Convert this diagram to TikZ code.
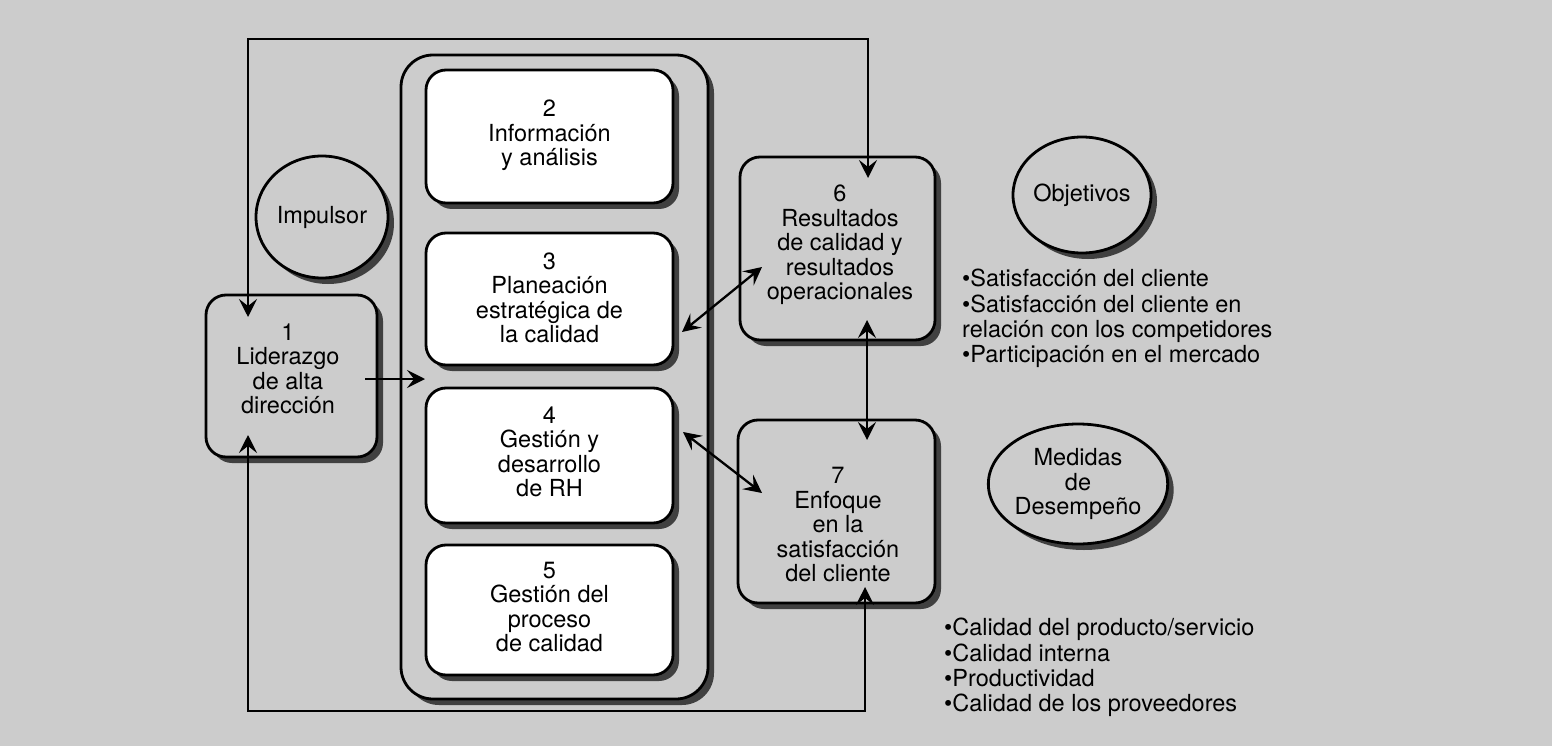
\documentclass[tikz,border=0pt]{standalone}
\usepackage{fontspec}
\setmainfont{TeX Gyre Heros}
\usetikzlibrary{shapes.geometric,shadows,arrows.meta}
\definecolor{bg}{gray}{0.80}
\begin{document}
\begin{tikzpicture}[x=1pt,y=-1pt,
  every node/.style={font=\fontsize{23.5}{24.5}\selectfont},
  shad/.style={drop shadow={shadow xshift=6pt,shadow yshift=-6pt,fill=black!75,opacity=1}},
  box/.style={draw,line width=2.8pt,rounded corners=20pt,shad,inner sep=0pt},
  wbox/.style={box,fill=white,minimum width=247pt},
  gbox/.style={box,fill=bg},
  circ/.style={ellipse,draw,line width=2.8pt,fill=bg,shad,inner sep=0pt,align=center},
  txt/.style={align=center,inner sep=0pt},
  lst/.style={align=left,inner sep=0pt,anchor=north west,font=\fontsize{23.5}{25.3}\selectfont},
  conn/.style={line width=2.3pt},
  tip/.style={-{Stealth[length=18pt,width=18pt,inset=7pt]}},
  dtip/.style={{Stealth[length=18pt,width=18pt,inset=7pt]}-{Stealth[length=18pt,width=18pt,inset=7pt]}}
]
\useasboundingbox[fill=bg] (0,0) rectangle (1552,746);

% container
\node[gbox,rounded corners=32pt,minimum width=307pt,minimum height=644pt] (cont) at (554.5,377) {};

% white boxes
\node[wbox,minimum height=133pt] (b2) at (549.5,136.5) {};
\node[wbox,minimum height=132pt] (b3) at (549.5,299) {};
\node[wbox,minimum height=135pt] (b4) at (549.5,455.5) {};
\node[wbox,minimum height=130pt] (b5) at (549.5,610) {};

% grey boxes
\node[gbox,minimum width=171pt,minimum height=162pt] (b1) at (291.5,376) {};
\node[gbox,minimum width=195pt,minimum height=183pt] (b6) at (837.5,248.5) {};
\node[gbox,minimum width=197pt,minimum height=183pt] (b7) at (836.5,511.5) {};

% box texts
\node[txt] (t1) at (288,369) {1\\Liderazgo\\de alta\\dirección};
\node[txt] (t2) at (549.5,135.5) {2\\Información\\y análisis};
\node[txt] (t3) at (549.5,298) {3\\Planeación\\estratégica de\\la calidad};
\node[txt] (t4) at (549.5,452) {4\\Gestión y\\desarrollo\\de RH};
\node[txt] (t5) at (549.5,607) {5\\Gestión del\\proceso\\de calidad};
\node[txt] (t6) at (840,245) {6\\Resultados\\de calidad y\\resultados\\operacionales};
\node[txt] (t7) at (838,525) {7\\Enfoque\\en la\\satisfacción\\del cliente};

% circles
\node[circ,minimum width=132pt,minimum height=122pt] (imp) at (322,217) {Impulsor};
\node[circ,minimum width=138pt,minimum height=116pt] (obj) at (1082,195) {Objetivos};
\node[circ,minimum width=138pt,minimum height=120pt] (med) at (1078,484) {Medidas\\de\\Desempeño};

% lists
\node[lst] (objl) at (962,269) {\textbullet Satisfacción del cliente\\\textbullet Satisfacción del cliente en\\relación con los competidores\\\textbullet Participación en el mercado};
\node[lst] (medl) at (944,618) {\textbullet Calidad del producto/servicio\\\textbullet Calidad interna\\\textbullet Productividad\\\textbullet Calidad de los proveedores};

% connector coordinates
\coordinate (c1top) at (248,317);
\coordinate (ctl) at (248,39);
\coordinate (ctr) at (868,39);
\coordinate (c6top) at (868,178);
\coordinate (c1bot) at (248,435);
\coordinate (cbl) at (248,711);
\coordinate (cbr) at (865,711);
\coordinate (c7bot) at (865,587);
\coordinate (a1s) at (365,379);
\coordinate (a1e) at (425,379);
\coordinate (a36a) at (682,332);
\coordinate (a36b) at (762,267);
\coordinate (a47a) at (683,432);
\coordinate (a47b) at (762,493);
\coordinate (a67a) at (867,320);
\coordinate (a67b) at (867,440);

% connectors
\draw[conn,dtip] (c1top) -- (ctl) -- (ctr) -- (c6top);
\draw[conn,dtip] (c1bot) -- (cbl) -- (cbr) -- (c7bot);
\draw[conn,tip] (a1s) -- (a1e);
\draw[conn,dtip] (a36a) -- (a36b);
\draw[conn,dtip] (a47a) -- (a47b);
\draw[conn,dtip] (a67a) -- (a67b);
\end{tikzpicture}
\end{document}
